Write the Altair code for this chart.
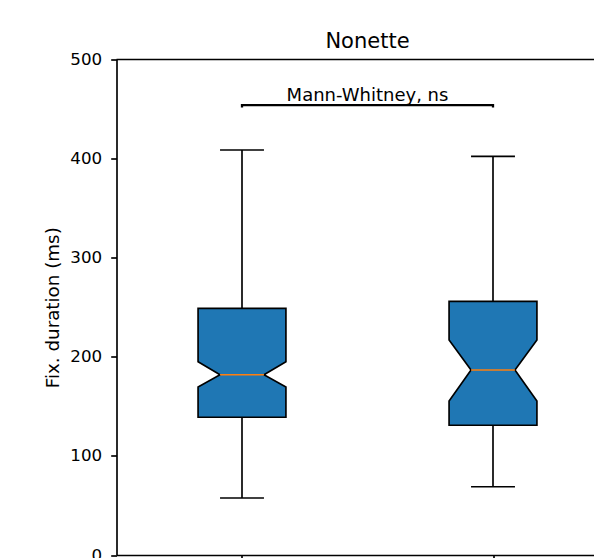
import altair as alt
import pandas as pd

# Box statistics for the two groups (fixation durations, ms)
positions = [1, 2]
whisker_low = [57.5, 68.9]
q1 = [139.0, 130.9]
notch_low = [169.5, 155.4]
median = [181.9, 186.7]
notch_high = [195.1, 217.0]
q3 = [248.9, 256.0]
whisker_high = [408.7, 402.3]

# Significance annotation between the two boxes
bracket_x = [1, 1, 2, 2]
bracket_y = [451.5, 454.0, 454.0, 451.5]
bracket_label = "Mann-Whitney, ns"
label_y = 458.0

TITLE = "Nonette"
Y_TITLE = "Fix. duration (ms)"
Y_TICKS = [0, 100, 200, 300, 400, 500]
Y_MAX = 500

BOX_HALF = 0.175
NOTCH_HALF = BOX_HALF / 2
CAP_HALF = BOX_HALF / 2
FONT = "DejaVu Sans"
BLUE = "#1f77b4"
ORANGE = "#ff7f0e"
LW = 1.67

stats = pd.DataFrame({
    "pos": positions, "wlo": whisker_low, "q1": q1, "nlo": notch_low,
    "med": median, "nhi": notch_high, "q3": q3, "whi": whisker_high,
})

# Notched outline: one row per vertex level, left/right edges
rows = []
for i, p in enumerate(positions):
    for y, half in [(q1[i], BOX_HALF), (notch_low[i], BOX_HALF),
                    (median[i], NOTCH_HALF), (notch_high[i], BOX_HALF),
                    (q3[i], BOX_HALF)]:
        rows.append({"box": i, "y": y, "left": p - half, "right": p + half})
outline = pd.DataFrame(rows)

bracket = pd.DataFrame({"x": bracket_x, "y": bracket_y, "k": list(range(len(bracket_x)))})
label = pd.DataFrame({"x": [(bracket_x[0] + bracket_x[-1]) / 2], "y": [label_y], "t": [bracket_label]})
frame_top = pd.DataFrame({"y": [Y_MAX]})

PLOT_LEFT, PLOT_TOP = 116.5, 59.5
FULL_W = 502.0
VIS_W = 594 - PLOT_LEFT
H = 495.5
x_scale = alt.Scale(domain=[0.5, 0.5 + 2 * VIS_W / FULL_W], nice=False, zero=False)
y_scale = alt.Scale(domain=[0, Y_MAX], nice=False)

x_bottom = alt.Axis(values=[1, 2], labels=False, ticks=True, tickSize=5.8, tickWidth=LW,
                    tickColor="black", domainColor="black", domainWidth=LW, grid=False, title=None)
y_axis = alt.Axis(values=Y_TICKS, grid=False, tickSize=5.8, tickWidth=LW, tickColor="black",
                  domainColor="black", domainWidth=LW, labelFont=FONT, labelFontSize=16.7,
                  labelColor="black", labelPadding=9, title=Y_TITLE, titleFont=FONT,
                  titleFontSize=18.3, titleFontWeight="normal", titleColor="black",
                  titlePadding=7)

# The axes are defined once here; the other layers share the same scales.
boxes = alt.Chart(outline).mark_area(
    orient="horizontal", fill=BLUE, stroke="black", strokeWidth=LW, interpolate="linear",
    fillOpacity=1, strokeJoin="miter"
).encode(
    y=alt.Y("y:Q", scale=y_scale, axis=y_axis),
    x=alt.X("left:Q", scale=x_scale, axis=x_bottom),
    x2="right:Q",
    detail="box:N",
)

upper_whisker = alt.Chart(stats).mark_rule(color="black", strokeWidth=LW).encode(
    x=alt.X("pos:Q", scale=x_scale),
    y=alt.Y("q3:Q", scale=y_scale),
    y2="whi:Q",
)
lower_whisker = alt.Chart(stats).mark_rule(color="black", strokeWidth=LW).encode(
    x=alt.X("pos:Q", scale=x_scale),
    y=alt.Y("wlo:Q", scale=y_scale),
    y2="q1:Q",
)

caps_base = alt.Chart(stats).transform_calculate(
    cl=f"datum.pos - {CAP_HALF}", cr=f"datum.pos + {CAP_HALF}"
)
cap_hi = caps_base.mark_rule(color="black", strokeWidth=LW).encode(
    x=alt.X("cl:Q", scale=x_scale), x2="cr:Q",
    y=alt.Y("whi:Q", scale=y_scale),
)
cap_lo = caps_base.mark_rule(color="black", strokeWidth=LW).encode(
    x=alt.X("cl:Q", scale=x_scale), x2="cr:Q",
    y=alt.Y("wlo:Q", scale=y_scale),
)

medians = alt.Chart(stats).transform_calculate(
    ml=f"datum.pos - {NOTCH_HALF}", mr=f"datum.pos + {NOTCH_HALF}"
).mark_rule(color=ORANGE, strokeWidth=LW).encode(
    x=alt.X("ml:Q", scale=x_scale), x2="mr:Q",
    y=alt.Y("med:Q", scale=y_scale),
)

bracket_line = alt.Chart(bracket).mark_line(color="black", strokeWidth=2.3).encode(
    x=alt.X("x:Q", scale=x_scale),
    y=alt.Y("y:Q", scale=y_scale),
    order="k:Q",
)

bracket_text = alt.Chart(label).mark_text(
    font=FONT, fontSize=18, color="black", baseline="alphabetic", align="center"
).encode(
    x=alt.X("x:Q", scale=x_scale),
    y=alt.Y("y:Q", scale=y_scale),
    text="t:N",
)

# Top spine of the axes frame, across the full plot width
top_spine = alt.Chart(frame_top).mark_rule(color="black", strokeWidth=LW).encode(
    y=alt.Y("y:Q", scale=y_scale),
    x=alt.value(0),
    x2=alt.value(VIS_W + 5),
)

chart = alt.layer(
    boxes, upper_whisker, lower_whisker, cap_hi, cap_lo, medians, bracket_line, bracket_text,
    top_spine
).properties(
    width=VIS_W,
    height=H,
    title=alt.TitleParams(TITLE, font=FONT, fontSize=21, fontWeight="normal", color="black",
                          anchor="middle", frame="group", baseline="alphabetic",
                          offset=3, dx=(FULL_W - VIS_W) / 2, dy=20),
    autosize=alt.AutoSizeParams(type="none"),
    padding={"left": PLOT_LEFT, "top": PLOT_TOP, "right": 0, "bottom": 558 - PLOT_TOP - H},
    background="white",
).configure_view(stroke=None).configure_axis(labelFont=FONT, titleFont=FONT)

chart.save("out.html", embed_options={"renderer": "svg", "actions": False})
